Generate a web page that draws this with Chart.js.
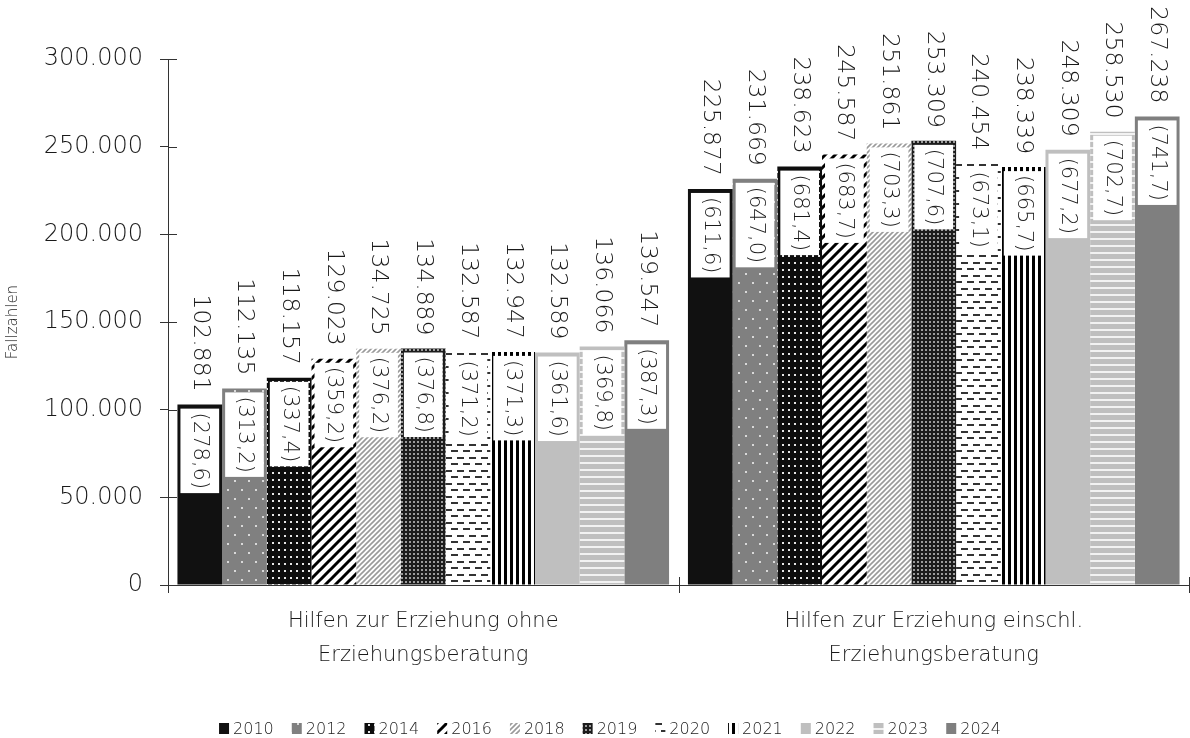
<!DOCTYPE html>
<html>
<head>
<meta charset="utf-8">
<script src="https://cdn.jsdelivr.net/npm/chart.js@4.4.1/dist/chart.umd.min.js"></script>
<style>
  html, body { margin: 0; padding: 0; background: #fff; }
  #wrap { width: 1190px; height: 738px; }
</style>
</head>
<body>
<div id="wrap"><canvas id="chart" width="1190" height="738"></canvas></div>
<script>
const FONT = "'DejaVu Sans', sans-serif";
const WEIGHT = "200";
const TEXT = "#1a1a1a";
const AXIS = "#333333";

const years = ["2010", "2012", "2014", "2016", "2018", "2019", "2020", "2021", "2022", "2023", "2024"];
const categories = [
  ["Hilfen zur Erziehung ohne", "Erziehungsberatung"],
  ["Hilfen zur Erziehung einschl.", "Erziehungsberatung"],
];
const casesOhne = [102881, 112135, 118157, 129023, 134725, 134889, 132587, 132947, 132589, 136066, 139547];
const casesEinschl = [225877, 231669, 238623, 245587, 251861, 253309, 240454, 238339, 248309, 258530, 267238];
const ratesOhne = [278.6, 313.2, 337.4, 359.2, 376.2, 376.8, 371.2, 371.3, 361.6, 369.8, 387.3];
const ratesEinschl = [611.6, 647.0, 681.4, 683.7, 703.3, 707.6, 673.1, 665.7, 677.2, 702.7, 741.7];
const yMax = 300000;
const yStep = 50000;

function fmtNum(v) {
  return String(v).replace(/\B(?=(\d{3})+(?!\d))/g, ".");
}

function fmtRate(v) {
  return "(" + v.toFixed(1).replace(".", ",") + ")";
}

const patCtx = document.createElement("canvas").getContext("2d");

function tile(w, h, bg, draw) {
  const c = document.createElement("canvas");
  c.width = w;
  c.height = h;
  const x = c.getContext("2d");
  x.fillStyle = bg;
  x.fillRect(0, 0, w, h);
  if (draw) draw(x, w, h);
  return patCtx.createPattern(c, "repeat");
}

function diag(x, w, h) {
  x.beginPath();
  x.moveTo(-w, h * 2); x.lineTo(w * 2, -h);
  x.moveTo(-w, h); x.lineTo(w, -h);
  x.moveTo(0, h * 2); x.lineTo(w * 2, 0);
  x.stroke();
}

const fills = [
  "#111111",
  tile(14, 18, "#808080", (x) => {
    x.fillStyle = "#d9d9d9";
    x.fillRect(3, 3, 2, 2);
    x.fillRect(10, 12, 2, 2);
  }),
  tile(6, 7, "#0d0d0d", (x) => {
    x.fillStyle = "#e6e6e6";
    x.fillRect(2, 3, 2, 2);
  }),
  tile(10, 10, "#ffffff", (x, w, h) => {
    x.strokeStyle = "#000";
    x.lineWidth = 3;
    diag(x, w, h);
  }),
  tile(5, 5, "#ffffff", (x, w, h) => {
    x.strokeStyle = "#9a9a9a";
    x.lineWidth = 1.6;
    diag(x, w, h);
  }),
  tile(4, 4, "#1c1c1c", (x) => {
    x.fillStyle = "#9c9c9c";
    x.fillRect(1, 1, 2, 2);
  }),
  tile(12, 13, "#ffffff", (x) => {
    x.fillStyle = "#333";
    x.fillRect(1, 2, 7, 2);
    x.fillRect(7, 8, 5, 2);
    x.fillRect(0, 8, 2, 2);
  }),
  tile(6, 1, "#ffffff", (x) => {
    x.fillStyle = "#000";
    x.fillRect(0, 0, 3, 1);
  }),
  "#bfbfbf",
  tile(1, 7, "#bfbfbf", (x) => {
    x.fillStyle = "#f2f2f2";
    x.fillRect(0, 0, 1, 2);
  }),
  "#7f7f7f",
];

// value labels and white rate boxes
const labelPlugin = {
  id: "barLabels",
  afterDatasetsDraw(chart) {
    const ctx = chart.ctx;
    chart.data.datasets.forEach((ds, di) => {
      const meta = chart.getDatasetMeta(di);
      meta.data.forEach((bar, i) => {
        const w = bar.width;
        const rate = fmtRate(ds.rates[i]);
        ctx.save();
        ctx.font = WEIGHT + " 21px " + FONT;
        const boxH = ctx.measureText(rate).width + 8;
        ctx.fillStyle = "#ffffff";
        ctx.fillRect(bar.x - w / 2 + 3, bar.y + 4, w - 6, boxH);
        ctx.fillStyle = TEXT;
        ctx.translate(bar.x, bar.y + 4 + boxH / 2);
        ctx.rotate(Math.PI / 2);
        ctx.textAlign = "center";
        ctx.textBaseline = "middle";
        ctx.fillText(rate, 0, 0);
        ctx.restore();

        ctx.save();
        ctx.font = WEIGHT + " 23.5px " + FONT;
        ctx.fillStyle = TEXT;
        ctx.translate(bar.x, bar.y - 13);
        ctx.rotate(Math.PI / 2);
        ctx.textAlign = "right";
        ctx.textBaseline = "middle";
        ctx.fillText(fmtNum(ds.data[i]), 0, 0);
        ctx.restore();
      });
    });
  },
};

// tick marks that cross the axis lines
const tickPlugin = {
  id: "crossTicks",
  afterDraw(chart) {
    const ctx = chart.ctx;
    const xs = chart.scales.x;
    const ys = chart.scales.y;
    const area = chart.chartArea;
    ctx.save();
    ctx.strokeStyle = AXIS;
    ctx.lineWidth = 1;
    ctx.beginPath();
    ys.ticks.forEach((t) => {
      const py = Math.round(ys.getPixelForValue(t.value)) + 0.5;
      ctx.moveTo(area.left, py);
      ctx.lineTo(area.left + 9, py);
    });
    for (let k = -0.5; k <= categories.length - 0.5; k += 1) {
      const px = Math.round(xs.getPixelForValue(k)) + 0.5;
      ctx.moveTo(px, area.bottom - 8);
      ctx.lineTo(px, area.bottom + 8);
    }
    ctx.stroke();
    ctx.restore();
  },
};

// legend row at the bottom
const legendPlugin = {
  id: "patternLegend",
  afterDraw(chart) {
    const ctx = chart.ctx;
    const box = 10, gap = 4, space = 18;
    ctx.save();
    ctx.font = WEIGHT + " 16px " + FONT;
    const items = chart.data.datasets.map((ds) => ({
      label: ds.label,
      fill: ds.backgroundColor,
      w: box + gap + ctx.measureText(ds.label).width,
    }));
    const total = items.reduce((s, it) => s + it.w, 0) + space * (items.length - 1);
    let x = 610 - total / 2;
    const base = 734;
    items.forEach((it) => {
      ctx.fillStyle = it.fill;
      ctx.fillRect(x, base - 11, box, 11);
      ctx.fillStyle = TEXT;
      ctx.textAlign = "left";
      ctx.textBaseline = "alphabetic";
      ctx.fillText(it.label, x + box + gap, base);
      x += it.w + space;
    });
    ctx.restore();
  },
};

const ctx = document.getElementById("chart").getContext("2d");
new Chart(ctx, {
  type: "bar",
  data: {
    labels: categories,
    datasets: years.map((y, i) => ({
      label: y,
      data: [casesOhne[i], casesEinschl[i]],
      rates: [ratesOhne[i], ratesEinschl[i]],
      backgroundColor: fills[i],
      borderWidth: 0,
      categoryPercentage: 0.963,
      barPercentage: 1,
    })),
  },
  options: {
    responsive: false,
    animation: false,
    layout: { padding: { top: 59, right: 1, left: 0, bottom: 0 } },
    plugins: {
      legend: { display: false },
      tooltip: { enabled: false },
    },
    scales: {
      x: {
        grid: { display: false, drawTicks: false },
        border: { display: true, color: AXIS, width: 1 },
        ticks: {
          font: { family: FONT, size: 21, weight: WEIGHT, lineHeight: 1.65 },
          color: TEXT,
          padding: 19,
          maxRotation: 0,
        },
        afterFit(axis) { axis.height = 153; },
      },
      y: {
        min: 0,
        max: yMax,
        ticks: {
          stepSize: yStep,
          font: { family: FONT, size: 24, weight: WEIGHT },
          color: TEXT,
          padding: 17,
          callback: (v) => fmtNum(v),
        },
        grid: { drawOnChartArea: false, drawTicks: true, tickLength: 8, tickColor: AXIS },
        border: { display: true, color: AXIS, width: 1 },
        title: {
          display: true,
          text: "Fallzahlen",
          font: { family: FONT, size: 15, weight: WEIGHT },
          color: TEXT,
          padding: { top: 4, bottom: 0 },
        },
        afterFit(axis) { axis.width = 168; },
      },
    },
  },
  plugins: [labelPlugin, tickPlugin, legendPlugin],
});
</script>
</body>
</html>
